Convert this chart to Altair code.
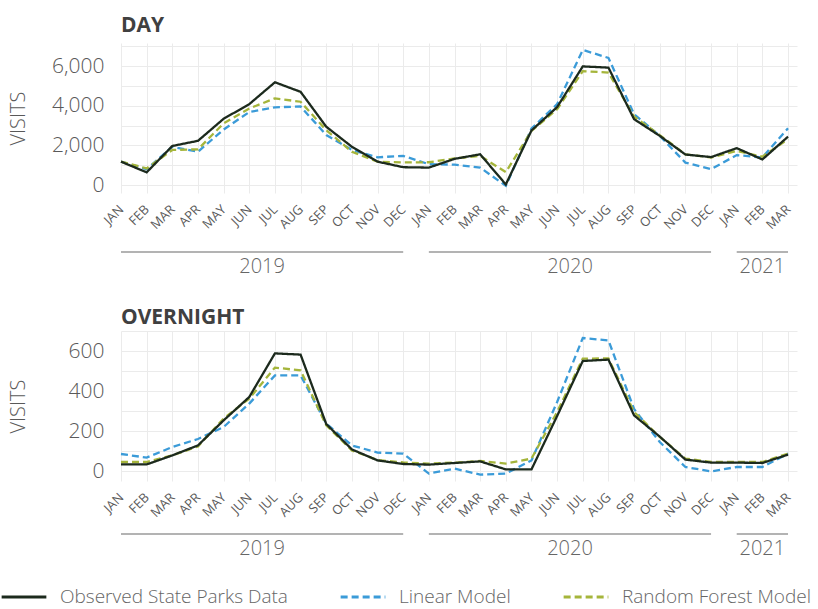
import json
import altair as alt
import pandas as pd

# Month index 0..26 runs from January 2019 to March 2021
month_labels = ["JAN", "FEB", "MAR", "APR", "MAY", "JUN", "JUL", "AUG", "SEP", "OCT", "NOV", "DEC",
                "JAN", "FEB", "MAR", "APR", "MAY", "JUN", "JUL", "AUG", "SEP", "OCT", "NOV", "DEC",
                "JAN", "FEB", "MAR"]

series_names = ["Observed State Parks Data", "Linear Model", "Random Forest Model"]

# Day-use visits
day_observed = [1180, 640, 1970, 2230, 3340, 4080, 5180, 4700, 2940, 1930, 1180, 900,
                880, 1320, 1550, 30, 2750, 3930, 5980, 5920, 3320, 2480, 1540, 1410,
                1860, 1290, 2440]
day_linear = [1180, 800, 1930, 1680, 2800, 3680, 3920, 3960, 2520, 1770, 1400, 1470,
              1050, 1030, 880, -40, 2850, 4080, 6810, 6410, 3570, 2480, 1130, 800,
              1510, 1390, 2860]
day_forest = [1180, 840, 1770, 1800, 3110, 3860, 4370, 4200, 2770, 1680, 1180, 1140,
              1150, 1340, 1470, 650, 2730, 3820, 5740, 5670, 3450, 2520, 1550, 1390,
              1720, 1430, 2310]

# Overnight visits
night_observed = [33, 33, 78, 128, 253, 370, 588, 582, 235, 108, 53, 35,
                  32, 40, 48, 8, 8, 275, 550, 557, 278, 172, 57, 42,
                  42, 40, 82]
night_linear = [85, 67, 120, 160, 220, 337, 478, 478, 237, 128, 92, 87,
                -13, 12, -18, -13, 53, 345, 665, 653, 310, 145, 20, -2,
                20, 20, 87]
night_forest = [45, 45, 78, 123, 262, 362, 517, 503, 228, 103, 55, 43,
                37, 42, 50, 37, 62, 295, 562, 563, 295, 170, 62, 45,
                45, 45, 87]

# Year groupings along the month axis (first and last month index)
years = ["2019", "2020", "2021"]
year_start = [0, 12, 24]
year_end = [11, 23, 26]

COLORS = ["#1c2a1d", "#3b9bd8", "#a5b53b"]
DASHES = [[1, 0], [7, 4], [7, 4]]
FONT = "Open Sans, Noto Sans, sans-serif"
GREY = "#595959"


def long_frame(obs, lin, rf):
    rows = []
    for name, vals in ((series_names[1], lin), (series_names[2], rf), (series_names[0], obs)):
        for i, v in enumerate(vals):
            rows.append({"idx": i, "visits": v, "series": name})
    return pd.DataFrame(rows)


years_df = pd.DataFrame({"year": years, "start": year_start, "end": year_end})
years_df["mid"] = (years_df["start"] + years_df["end"]) / 2

legend = alt.Legend(
    title=None, orient="none", legendX=-121, legendY=530, direction="horizontal",
    symbolType="stroke", symbolSize=2000, symbolStrokeWidth=3,
    labelFont=FONT, labelFontSize=19, labelFontWeight=300, labelColor="#666666",
    columnPadding=46, labelOffset=12, labelLimit=400,
)

x_axis = alt.Axis(
    values=list(range(len(month_labels))),
    labelExpr=f"{json.dumps(month_labels)}[datum.value]",
    labelAngle=-45, labelAlign="right", labelBaseline="middle", labelOverlap=False,
    labelPadding=14, labelFont=FONT, labelFontSize=13, labelColor=GREY,
    ticks=False, domain=False, grid=True, gridColor="#ebebeb", title=None,
)
x_scale = alt.Scale(domain=[0, 26.35], nice=False, zero=False)


def panel(df, title, ydomain, grid_step, label_step, rule_y, text_y, title_offset):
    grid_vals = list(range(0, int(ydomain[1]) + 1, grid_step))
    y_axis = alt.Axis(
        values=grid_vals,
        labelExpr=f"datum.value % {label_step} == 0 ? format(datum.value, ',') : ''",
        labelPadding=17, labelFont=FONT, labelFontSize=21, labelFontWeight=300,
        labelColor=GREY, ticks=False, domain=False, grid=True, gridColor="#ebebeb",
        title="VISITS", titleFont=FONT, titleFontSize=20, titleFontWeight=300,
        titleColor=GREY, titleX=-97, titleY=75, titleBaseline="alphabetic",
    )
    lines = alt.Chart(df).mark_line(strokeWidth=2.3).encode(
        x=alt.X("idx:Q", scale=x_scale, axis=x_axis),
        y=alt.Y("visits:Q", scale=alt.Scale(domain=ydomain, nice=False, zero=False), axis=y_axis),
        color=alt.Color("series:N", sort=series_names,
                        scale=alt.Scale(domain=series_names, range=COLORS), legend=legend),
        strokeDash=alt.StrokeDash("series:N", sort=series_names,
                                  scale=alt.Scale(domain=series_names, range=DASHES),
                                  legend=legend),
    )
    rules = alt.Chart(years_df).mark_rule(color="#b3b3b3", strokeWidth=2).encode(
        x=alt.X("start:Q", scale=x_scale, axis=x_axis), x2="end:Q", y=alt.value(rule_y)
    )
    labels = alt.Chart(years_df).mark_text(
        font=FONT, fontSize=20, fontWeight=300, color="#666666", baseline="middle"
    ).encode(x=alt.X("mid:Q", scale=x_scale, axis=x_axis), y=alt.value(text_y), text="year:N")
    return alt.layer(lines, rules, labels).properties(
        width=676, height=150,
        title=alt.Title(title, anchor="start", frame="group", font=FONT, fontSize=21,
                        fontWeight="bold", color="#404040", baseline="alphabetic",
                        offset=title_offset),
    )


day = panel(long_frame(day_observed, day_linear, day_forest), "DAY",
            [-400, 7160], 1000, 2000, 209, 224, -10)
night = panel(long_frame(night_observed, night_linear, night_forest), "OVERNIGHT",
              [-50, 700], 100, 200, 203, 218, -14)

chart = alt.vconcat(day, night, spacing=30).properties(
    padding={"left": 0, "top": 15, "right": 0, "bottom": 20}
).configure_view(stroke=None).configure_axisX(labelOverlap=False)

chart.save("out.html", embed_options={"renderer": "svg", "actions": False})
